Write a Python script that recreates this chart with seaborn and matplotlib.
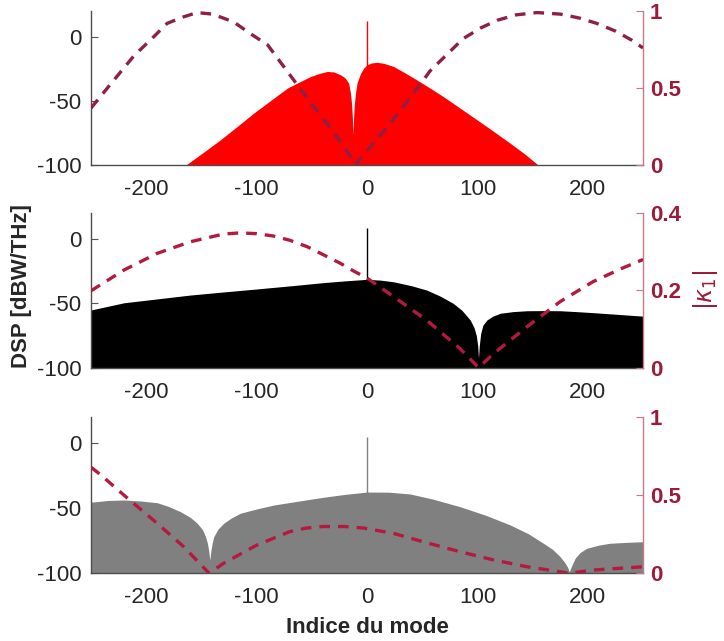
import matplotlib
matplotlib.use("Agg")
import matplotlib.pyplot as plt
import seaborn as sns
import numpy as np

# ---------------- data ----------------
# panel 1 (red) spectral envelope [dBW/THz] vs mode index
m1 = [-250, -164, -150, -133, -118, -103, -88, -72, -60, -51, -43, -36, -30, -24, -20,
      -16.6, -15, -14, -13.3, -12.7, -12.1, -11.4, -10.4, -9, -6, -3, 0, 4, 9, 15, 24,
      34, 45, 57, 69, 84, 100, 115, 130, 143, 155, 250]
d1 = [-100, -100, -91.3, -80.5, -70.3, -59.8, -50.2, -40, -34.8, -31, -28.6, -27.1, -27.5,
      -29.7, -32, -36.2, -44, -52, -62, -76.6, -62, -52, -44, -36, -29, -24.5, -22, -20.5,
      -20, -20.7, -23.2, -28, -33.6, -40, -46.6, -55.5, -65, -74, -83.2, -91.5, -100, -100]

# panel 2 (black)
m2 = [-250, -220, -190, -160, -130, -100, -70, -40, -20, 0, 12, 24, 40, 54, 66, 78, 86,
      93.5, 97, 99, 100.3, 101, 101.7, 103, 105, 108.6, 114, 120.6, 132, 145, 160, 175,
      190, 205, 225, 250]
d2 = [-55.2, -49.6, -46.6, -43.6, -41.2, -38.9, -36.5, -34, -32.6, -31.4, -32, -33.3,
      -36.3, -39.7, -44.3, -50, -55.5, -63, -69, -75, -83, -92.8, -83, -73.4, -67, -63,
      -60, -57.8, -56.5, -55.8, -55.7, -55.8, -56.5, -57.3, -58.5, -60]

# panel 3 (grey)
m3 = [-250, -235, -220, -205, -190, -180, -169, -160, -153.8, -149, -146.3, -144.5,
      -143.3, -142.4, -141.5, -140.3, -138.8, -135, -129.8, -123, -114.7, -100, -84.5,
      -60, -39.3, -20, 0, 20, 39.2, 60, 84.4, 108, 129.7, 146, 159.8, 168, 174.9, 179,
      181.5, 183.3, 185, 188.5, 193, 199, 210, 220, 235, 250]
d3 = [-45.3, -44, -43.6, -44.4, -45.7, -48.5, -52.6, -57, -61.5, -66.5, -71.8, -77, -83,
      -89.8, -83, -77, -71.8, -66, -61.5, -57.5, -53.8, -50.5, -47.5, -44.2, -41.5, -39.3,
      -37.5, -37.6, -39, -43, -48.8, -55.5, -62.8, -69.5, -76.9, -81.5, -87.2, -91.5, -95,
      -98.8, -95, -88.5, -84, -80.8, -78.3, -76.9, -76.2, -75.7]

# pump line level at mode 0 for each panel
pump_db = [12, 8.2, 5.1]

# |kappa_1| curves
k1x = [-250, -230, -211, -195, -181, -167, -154, -140, -121, -105, -90, -75, -60, -45,
       -30, -20, -12, -10.5, -5, 10, 21, 35, 50, 57, 67, 87, 103, 118, 135, 154, 175, 192,
       208, 225, 240, 250]
k1y = [0.37, 0.545, 0.71, 0.82, 0.92, 0.96, 0.99, 0.98, 0.93, 0.85, 0.78, 0.635, 0.49,
       0.35, 0.21, 0.11, 0.02, 0.0, 0.05, 0.176, 0.27, 0.40, 0.54, 0.61, 0.68, 0.82, 0.89,
       0.94, 0.975, 0.99, 0.98, 0.955, 0.92, 0.87, 0.81, 0.76]

k2x = [-250, -220, -190, -160, -130, -115, -100, -85, -70, -54, -40, -24, -12, 0, 24, 54,
       84, 101, 115, 145, 175, 205, 230, 250]
k2y = [0.199, 0.253, 0.296, 0.326, 0.346, 0.349, 0.347, 0.341, 0.33, 0.313, 0.293, 0.27,
       0.25, 0.232, 0.184, 0.123, 0.05, 0.0, 0.037, 0.106, 0.171, 0.223, 0.256, 0.28]

k3x = [-250, -241, -220, -190, -166, -143, -130, -100, -70, -55, -40, -20, -3, 24, 54, 84,
       115, 145, 175, 183, 205, 250]
k3y = [0.68, 0.63, 0.50, 0.32, 0.17, 0.0, 0.064, 0.18, 0.267, 0.29, 0.30, 0.30, 0.29,
       0.256, 0.196, 0.139, 0.085, 0.042, 0.01, 0.0, 0.021, 0.042]

xticks = [-200, -100, 0, 100, 200]
yticks_left = [-100, -50, 0]
right_ticks = [[0, 0.5, 1], [0, 0.2, 0.4], [0, 0.5, 1]]
right_labels = [["0", "0.5", "1"], ["0", "0.2", "0.4"], ["0", "0.5", "1"]]
right_lims = [(0, 1), (0, 0.4), (0, 1)]

fill_colors = ["#FF0000", "#000000", "#808080"]
kappa_colors = ["#8E2045", "#B31A3E", "#B31A3E"]

# ---------------- style ----------------
sns.set_theme(style="white")
plt.rcParams["font.family"] = ["Liberation Sans", "DejaVu Sans"]
plt.rcParams["axes.unicode_minus"] = False

fig = plt.figure(figsize=(7.24, 6.41), dpi=100)
left, width = 0.1257, 0.7624
boxes = [(0.7426, 0.2402), (0.4265, 0.2409), (0.1056, 0.2434)]

label_red = "#9C1A3A"
spine_red = "#C47A88"
dark = "#262626"

datasets = [(m1, d1), (m2, d2), (m3, d3)]
kappas = [(k1x, k1y), (k2x, k2y), (k3x, k3y)]

axes = []
for i in range(3):
    b, h = boxes[i]
    ax = fig.add_axes([left, b, width, h])
    mx, dv = datasets[i]
    ax.fill_between(mx, -100, dv, color=fill_colors[i], lw=0, zorder=1)
    ax.vlines(0, -100, pump_db[i], color=fill_colors[i], lw=1.0, zorder=2)
    ax.set_xlim(-250, 250)
    ax.set_ylim(-100, 20)
    ax.set_xticks(xticks)
    ax.set_xticklabels([str(v) for v in xticks])
    ax.set_yticks(yticks_left)
    ax.set_yticklabels([str(v) for v in yticks_left])
    ax.tick_params(axis="x", direction="in", length=5, width=0.8, labelsize=16,
                   pad=10, color="#555555", labelcolor=dark)
    ax.tick_params(axis="y", direction="in", length=5, width=0.8, labelsize=16,
                   pad=7, color="#555555", labelcolor=dark)
    for s in ["top", "right"]:
        ax.spines[s].set_visible(False)
    for s in ["left", "bottom"]:
        ax.spines[s].set_color("#4D4D4D")
        ax.spines[s].set_linewidth(1.0)

    tw = ax.twinx()
    kx, ky = kappas[i]
    sns.lineplot(x=kx, y=ky, ax=tw, color=kappa_colors[i], lw=2.4,
                 linestyle=(0, (3.2, 2.4)), sort=False, zorder=3)
    tw.set_ylim(*right_lims[i])
    tw.set_xlim(-250, 250)
    tw.set_yticks(right_ticks[i])
    tw.set_yticklabels(right_labels[i], fontweight="bold")
    tw.tick_params(axis="y", direction="in", length=5, width=0.8, labelsize=16,
                   pad=5, color=spine_red, labelcolor=label_red)
    for s in ["top", "left", "bottom"]:
        tw.spines[s].set_visible(False)
    tw.spines["right"].set_color(spine_red)
    tw.spines["right"].set_linewidth(1.0)
    tw.grid(False)
    ax.grid(False)
    axes.append(ax)

axes[2].set_xlabel("Indice du mode", fontsize=16, fontweight="bold", color=dark,
                   labelpad=6)
fig.text(0.030, 0.554, "DSP [dBW/THz]", rotation=90, ha="center", va="center",
         fontsize=16, fontweight="bold", color=dark)
fig.text(0.975, 0.548, r"$|\kappa_1|$", rotation=90, ha="center", va="center",
         fontsize=17, color=label_red)

fig.savefig("out.png", dpi=100)
